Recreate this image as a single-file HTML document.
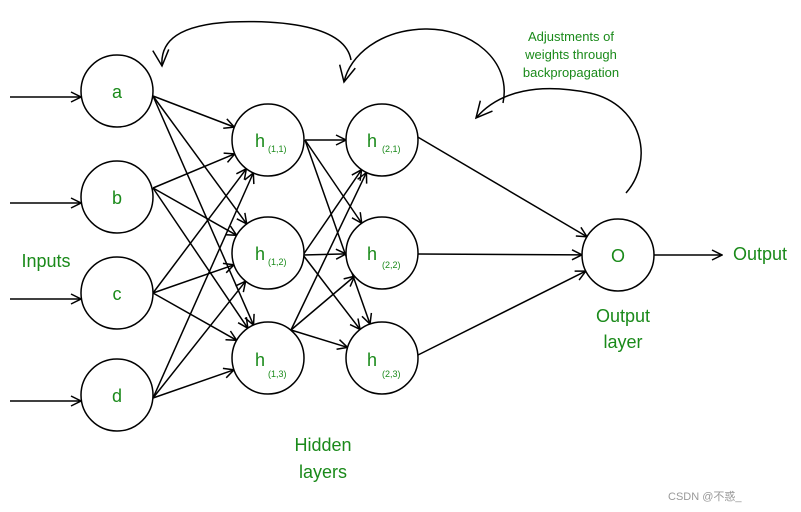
<!DOCTYPE html>
<html><head><meta charset="utf-8"><style>
html,body{margin:0;padding:0;background:#fff;}
svg{display:block;}
text{font-family:"Liberation Sans",sans-serif;fill:#1a8a1a;}
</style></head><body>
<svg id="s" width="801" height="512" viewBox="0 0 801 512" xmlns="http://www.w3.org/2000/svg">
<defs>
<marker id="ar" viewBox="0 0 12 12" refX="11" refY="6" markerWidth="12" markerHeight="12" markerUnits="userSpaceOnUse" orient="auto">
<path d="M1,1 L11,6 L1,11" fill="none" stroke="#000" stroke-width="1.5"/>
</marker>
<marker id="ar2" viewBox="0 0 20 20" refX="18" refY="10" markerWidth="20" markerHeight="20" markerUnits="userSpaceOnUse" orient="auto">
<path d="M2,2 L18,10 L2,18" fill="none" stroke="#000" stroke-width="1.5"/>
</marker>
</defs>
<g id="edges" stroke="#000" stroke-width="1.5" fill="none"></g>
<g fill="none" stroke="#000" stroke-width="1.5">
<path d="M351,60 C345,25 280,20 230,22 C180,25 160,40 162,66" marker-end="url(#ar2)"/>
<path d="M503,103 C512,60 470,28 425,29 C380,30 350,55 344,82" marker-end="url(#ar2)"/>
<path d="M626,193 C655,160 642,105 590,93 C540,83 500,90 476,118" marker-end="url(#ar2)"/>
</g>
<g id="nodes" stroke="#000" stroke-width="1.5" fill="#fff"></g>
<g font-size="18" text-anchor="middle">
<text x="117" y="98">a</text><text x="117" y="204">b</text><text x="117" y="300">c</text><text x="117" y="402">d</text>
<text x="618" y="262">O</text>
<text x="46" y="267">Inputs</text>
<text x="760" y="260">Output</text>
<text x="623" y="322">Output</text><text x="623" y="348">layer</text>
<text x="323" y="451">Hidden</text><text x="323" y="478">layers</text>
</g>
<g font-size="13" text-anchor="middle">
<text x="571" y="41">Adjustments of</text><text x="571" y="59">weights through</text><text x="571" y="77">backpropagation</text>
</g>
<g>
<text x="255" y="147" font-size="18">h</text><text x="268" y="152" font-size="9">(1,1)</text>
<text x="255" y="260" font-size="18">h</text><text x="268" y="265" font-size="9">(1,2)</text>
<text x="255" y="366" font-size="18">h</text><text x="268" y="377" font-size="9">(1,3)</text>
<text x="367" y="147" font-size="18">h</text><text x="382" y="152" font-size="9">(2,1)</text>
<text x="367" y="260" font-size="18">h</text><text x="382" y="268" font-size="9">(2,2)</text>
<text x="367" y="366" font-size="18">h</text><text x="382" y="377" font-size="9">(2,3)</text>
</g>
<text x="668" y="500" font-size="11" style="fill:#999">CSDN @不惑_</text>
</svg>
<script>
var NS="http://www.w3.org/2000/svg",R=36;
var inp=[[117,91],[117,197],[117,293],[117,395]];
var inpF=[[153,96],[153,188],[153,293],[153,398]];
var h1=[[268,140],[268,253],[268,358]];
var h1F=[[305,140],[303,255],[291,330]];
var h2=[[382,140],[382,253],[382,358]];
var h2F=[[416,136],[418,254],[416,356]];
var out=[[618,255]];
var E=document.getElementById("edges"),N=document.getElementById("nodes");
function line(x1,y1,x2,y2,m){var l=document.createElementNS(NS,"line");l.setAttribute("x1",x1);l.setAttribute("y1",y1);l.setAttribute("x2",x2);l.setAttribute("y2",y2);if(m)l.setAttribute("marker-end","url(#ar)");E.appendChild(l);}
function conn(s,b){var dx=b[0]-s[0],dy=b[1]-s[1],d=Math.hypot(dx,dy);var ux=dx/d,uy=dy/d;
/* intersect ray from s with circle b */
var fx=s[0]-b[0],fy=s[1]-b[1];var B=fx*ux+fy*uy,C=fx*fx+fy*fy-R*R;var t=-B-Math.sqrt(Math.max(0,B*B-C));
line(s[0],s[1],s[0]+ux*t,s[1]+uy*t,true);}
function full(AF,B){AF.forEach(function(a){B.forEach(function(b){conn(a,b);});});}
full(inpF,h1);full(h1F,h2);full(h2F,out);
inp.forEach(function(p){line(10,p[1]+6,p[0]-R,p[1]+6,true);});
line(654,255,722,255,true);
[].concat(inp,h1,h2,out).forEach(function(p){var c=document.createElementNS(NS,"circle");c.setAttribute("cx",p[0]);c.setAttribute("cy",p[1]);c.setAttribute("r",R);N.appendChild(c);});
</script>
</body></html>
